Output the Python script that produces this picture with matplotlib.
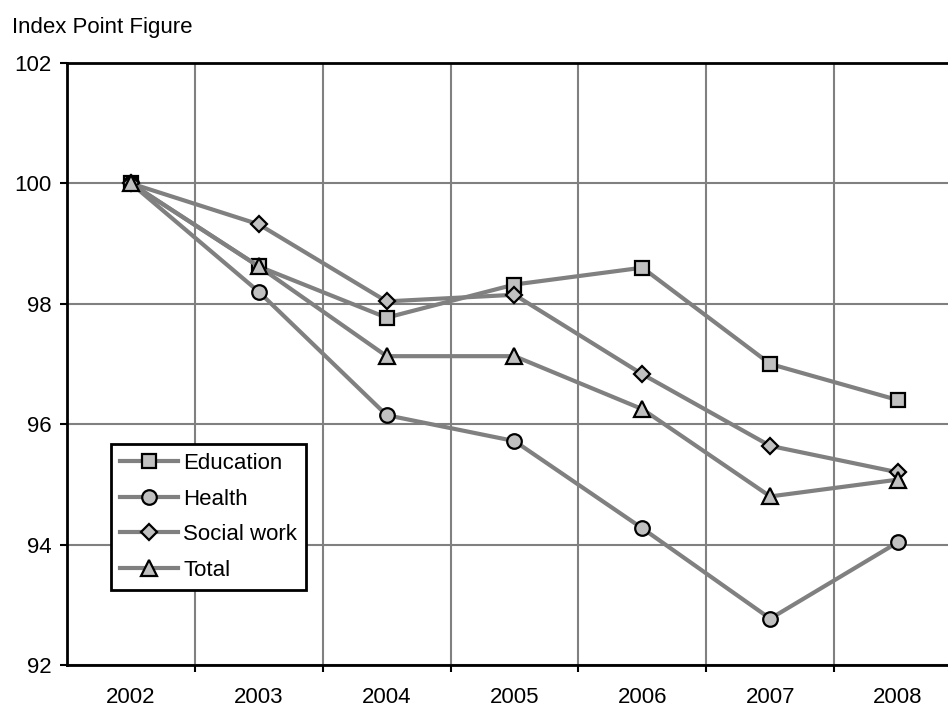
import matplotlib.pyplot as plt
import numpy as np

plt.rcParams['font.family'] = ['Liberation Sans', 'DejaVu Sans']

years = ['2002', '2003', '2004', '2005', '2006', '2007', '2008']
education = [100, 98.62, 97.77, 98.32, 98.60, 97.00, 96.40]
health = [100, 98.20, 96.15, 95.72, 94.27, 92.77, 94.04]
social_work = [100, 99.32, 98.04, 98.15, 96.83, 95.64, 95.20]
total = [100, 98.62, 97.13, 97.13, 96.25, 94.80, 95.08]

fig = plt.figure(figsize=(9.48, 7.09), dpi=100)
ax = fig.add_axes([67/948, 44/709, 895/948, 602/709])

x = np.arange(len(years))
style = dict(color='#808080', linewidth=3, markerfacecolor='#c0c0c0',
             markeredgecolor='black', markeredgewidth=1.6)
ax.plot(x, education, marker='s', markersize=10, label='Education', **style)
ax.plot(x, health, marker='o', markersize=10.5, label='Health', **style)
ax.plot(x, social_work, marker='D', markersize=8, label='Social work', **style)
ax.plot(x, total, marker='^', markersize=11, label='Total', **style)

ax.set_xlim(-0.5, len(years) - 0.5)
ax.set_ylim(92, 102)
ax.set_yticks(np.arange(92, 103, 2))
ax.set_xticks(x)
ax.set_xticklabels(years)
ax.set_xticks(np.arange(0.5, len(years) - 1, 1), minor=True)

ax.tick_params(axis='x', which='major', length=0, pad=16, labelsize=16)
ax.tick_params(axis='x', which='minor', length=5, width=1.5, direction='out')
ax.tick_params(axis='y', length=5, width=1.5, direction='out', pad=6, labelsize=16)

ax.grid(True, axis='y', which='major', color='#808080', linewidth=1.5)
ax.grid(True, axis='x', which='minor', color='#808080', linewidth=1.5)
ax.set_axisbelow(True)

for side in ['left', 'bottom', 'top']:
    ax.spines[side].set_linewidth(2)
    ax.spines[side].set_color('black')
ax.spines['right'].set_visible(False)

leg = ax.legend(loc='lower left', bbox_to_anchor=(0.049, 0.125), borderaxespad=0,
                fontsize=16, handlelength=2.6, handletextpad=0.25,
                labelspacing=0.66, borderpad=0.4, fancybox=False, framealpha=1)
leg.get_frame().set_edgecolor('black')
leg.get_frame().set_linewidth(2)

fig.text(12/948, 1 - 27/709, 'Index Point Figure', fontsize=16, va='center', ha='left')

fig.savefig('out.png', dpi=100)
